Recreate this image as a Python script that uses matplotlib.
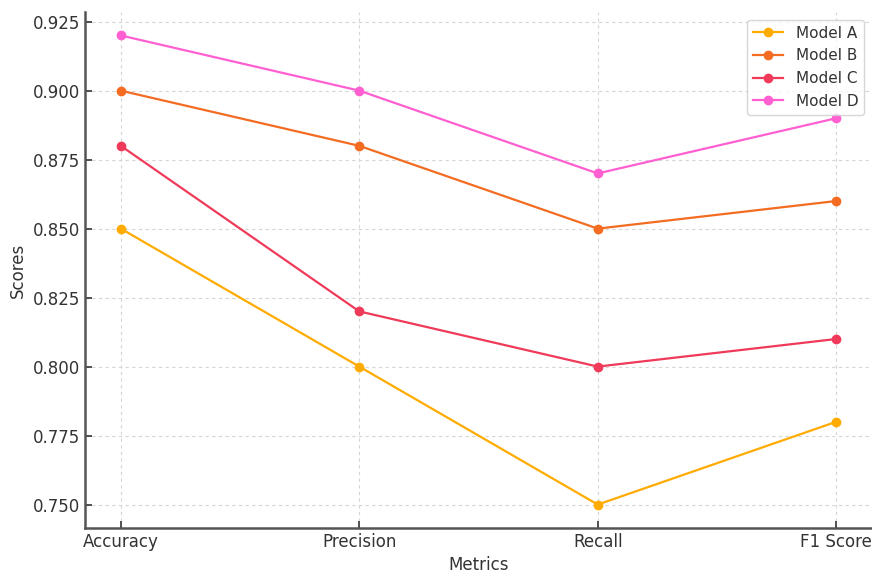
import matplotlib
matplotlib.use('Agg')
import matplotlib.pyplot as plt

metrics = ['Accuracy', 'Precision', 'Recall', 'F1 Score']
model_a = [0.85, 0.80, 0.75, 0.78]
model_b = [0.90, 0.88, 0.85, 0.86]
model_c = [0.88, 0.82, 0.80, 0.81]
model_d = [0.92, 0.90, 0.87, 0.89]
names = ['Model A', 'Model B', 'Model C', 'Model D']
colors = ['#ffab00', '#f36c22', '#f03a5a', '#ff5fd0']

fig = plt.figure(figsize=(8.72, 5.74), dpi=100)
ax = fig.add_axes([0.0975, 0.0801, 0.9025, 0.899])

for vals, name, c in zip([model_a, model_b, model_c, model_d], names, colors):
    ax.plot(metrics, vals, marker='o', color=c, label=name, linewidth=1.6, markersize=6)

ax.set_xlabel('Metrics', fontsize=12, color='#333333')
ax.set_ylabel('Scores', fontsize=12, color='#333333')
ax.tick_params(direction='in', labelsize=12, colors='#333333', length=5, width=1.2)
ax.yaxis.set_major_formatter(matplotlib.ticker.FormatStrFormatter('%.3f'))
ax.grid(True, linestyle=(0, (3, 3)), color='#d5d5d5', linewidth=0.8)
for s in ['top', 'right']:
    ax.spines[s].set_visible(False)
for s in ['left', 'bottom']:
    ax.spines[s].set_color('#555555')
    ax.spines[s].set_linewidth(1.8)

ax.legend(loc='upper right', fontsize=11, labelcolor='#333333')
fig.savefig('out.png', dpi=100)
